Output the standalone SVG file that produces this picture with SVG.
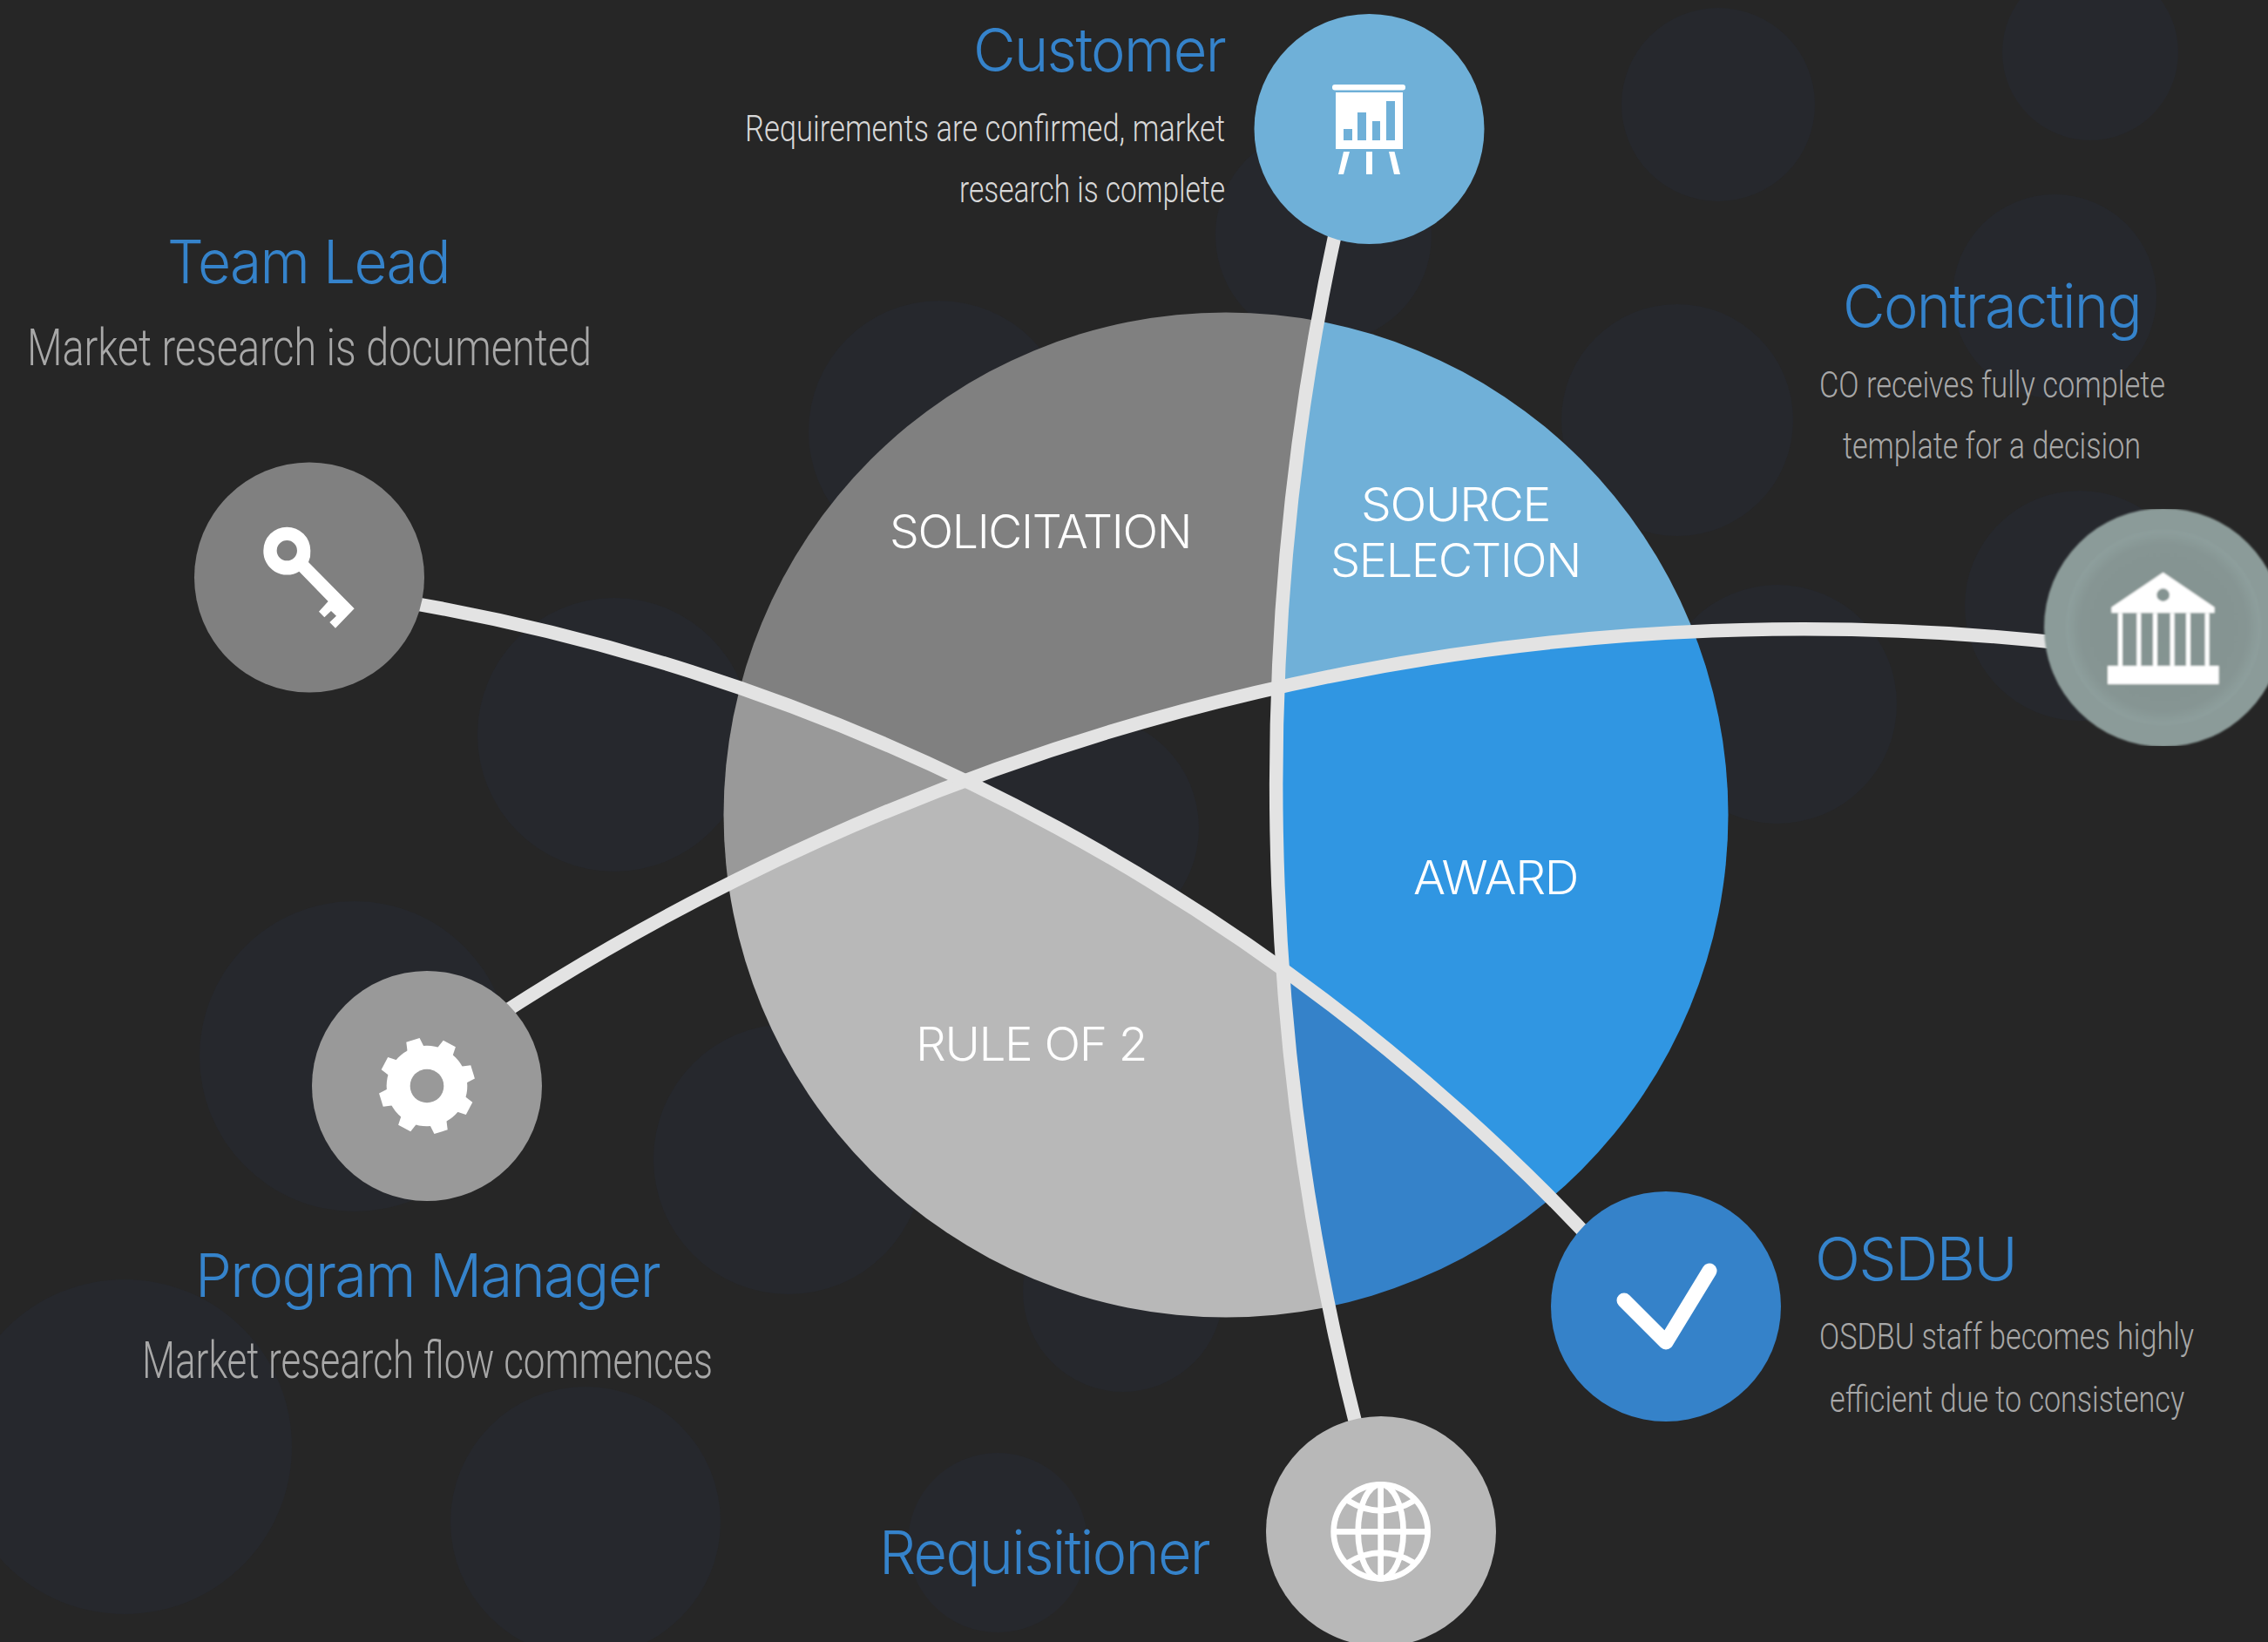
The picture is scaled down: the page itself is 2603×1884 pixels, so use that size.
<svg xmlns="http://www.w3.org/2000/svg" width="2603" height="1884" viewBox="0 0 2603 1884">
<style>
.bub{fill:#26282d}
.conn{fill:none;stroke:#e3e3e3;stroke-width:15.5}
.title{font-family:Inter,Roboto,"Liberation Sans",sans-serif;font-weight:300;font-size:69px;letter-spacing:-.025em;fill:#3583cb}
.sub{font-family:Roboto,"Liberation Sans",sans-serif;font-weight:300;font-size:43px;fill:#a8a8a8}
.subl{fill:#d8d8d8}
.big{font-size:60px}
.sec{font-family:Inter,"Liberation Sans",Arial,sans-serif;font-weight:300;font-size:53px;letter-spacing:-.025em;fill:#fff}
.ic{fill:#fff}
</style>
<defs>
<clipPath id="disc"><circle cx="1407" cy="935" r="576.5"/></clipPath>
<clipPath id="imgclip"><rect x="2330" y="584" width="273" height="272"/></clipPath>
<radialGradient id="ringg" cx="0.5" cy="0.5" r="0.5"><stop offset="0" stop-color="#849391"/><stop offset="0.85" stop-color="#869593"/><stop offset="1" stop-color="#8e9f9d"/></radialGradient>
<filter id="soft" x="-5%" y="-5%" width="110%" height="110%"><feGaussianBlur stdDeviation="1"/></filter>
<polygon id="tooth" points="-24,-165 24,-165 31,-125 -31,-125"/>
</defs>
<rect width="2603" height="1884" fill="#262626"/>
<g id="backdrop">
<circle class="bub" cx="1972" cy="120" r="111"/>
<circle class="bub" cx="2399" cy="60" r="101"/>
<circle class="bub" cx="2358" cy="340" r="117"/>
<circle class="bub" cx="1925" cy="482" r="133"/>
<circle class="bub" cx="2387" cy="695" r="132"/>
<circle class="bub" cx="2040" cy="808" r="137"/>
<circle class="bub" cx="1519" cy="270" r="124"/>
<circle class="bub" cx="1078" cy="495" r="150"/>
<circle class="bub" cx="705" cy="843" r="157"/>
<circle class="bub" cx="407" cy="1212" r="178"/>
<circle class="bub" cx="905" cy="1330" r="155"/>
<circle class="bub" cx="1246" cy="950" r="130"/>
<circle class="bub" cx="1289" cy="1482" r="115"/>
<circle class="bub" cx="143" cy="1660" r="192"/>
<circle class="bub" cx="672" cy="1746" r="155"/>
<circle class="bub" cx="1145" cy="1770" r="103"/>
</g>
<g id="sectors" clip-path="url(#disc)">
<path id="sector-solicitation" fill="#808080" d="M1108,896A2750,2750 0 0 1 1467,789A2988,2988 0 0 1 1561,148L355,148L355,674.4A2428,2428 0 0 1 1108,896Z"/>
<path id="sector-wedge" fill="#999999" d="M1108,896A2428,2428 0 0 0 355,674.4L490,1221A2750,2750 0 0 1 1108,896Z"/>
<path id="sector-rule" fill="#b8b8b8" d="M490,1221A2750,2750 0 0 1 1108,896A2428,2428 0 0 1 1472.5,1112A2988,2988 0 0 0 1590,1757L490,1757Z"/>
<path id="sector-source" fill="#70b0d8" d="M1467,789A2988,2988 0 0 1 1561,148L2483,148L2483,753A2750,2750 0 0 0 1467,789Z"/>
<path id="sector-award" fill="#3096e2" d="M1467,789A2750,2750 0 0 1 2483,753L2483,1519L1912,1519A2428,2428 0 0 0 1472.5,1112A2988,2988 0 0 1 1467,789Z"/>
<path id="sector-low" fill="#3582c9" d="M1472.5,1112A2428,2428 0 0 1 1912,1519L1912,1757L1590,1757A2988,2988 0 0 1 1472.5,1112Z"/>
</g>
<g id="connectors">
<path class="conn" d="M1561,148A2988,2988 0 0 0 1590,1757"/>
<path class="conn" d="M490,1221A2750,2750 0 0 1 2483,753"/>
<path class="conn" d="M355,674.4A2428,2428 0 0 1 1912,1519"/>
</g>
<g id="section-labels">
<text class="sec" x="1021" y="629" textLength="346" lengthAdjust="spacingAndGlyphs">SOLICITATION</text>
<text class="sec" x="1562" y="598" textLength="217" lengthAdjust="spacingAndGlyphs">SOURCE</text>
<text class="sec" x="1527" y="662" textLength="287" lengthAdjust="spacingAndGlyphs">SELECTION</text>
<text class="sec" x="1622" y="1026" textLength="189" lengthAdjust="spacingAndGlyphs">AWARD</text>
<text class="sec" x="1051" y="1217" textLength="265" lengthAdjust="spacingAndGlyphs">RULE OF 2</text>
</g>
<g id="node-customer">
<circle cx="1571.5" cy="148" r="132" fill="#6fb0d8"/>
<rect class="ic" x="1529" y="97" width="84" height="6.5" rx="3"/>
<path class="ic" fill-rule="evenodd" d="M1533,106H1610V171H1533ZM1542,148V161H1552V148ZM1558,129V161H1568V129ZM1575,139V161H1584V139ZM1591,116V161H1601V116Z"/>
<path class="ic" d="M1542,174H1549L1542,200H1536ZM1568,174H1575V200H1568ZM1594,174H1600.5L1607,200H1600Z"/>
<text class="title" x="1117" y="82" textLength="289" lengthAdjust="spacingAndGlyphs">Customer</text>
<text class="sub subl" x="855" y="162" textLength="551" lengthAdjust="spacingAndGlyphs">Requirements are confirmed, market</text>
<text class="sub subl" x="1101" y="232" textLength="305" lengthAdjust="spacingAndGlyphs">research is complete</text>
</g>
<g id="node-team-lead">
<circle cx="355" cy="662.5" r="132" fill="#808080"/>
<path class="ic" fill-rule="evenodd" transform="translate(200,510) scale(.3333)" d="M307,365A81,81 0 1 1 469,365A81,81 0 0 1 462,405L620,565L555,632L535,612L558,590L540,573L517,595L498,575L530,540L430,437A81,81 0 0 1 307,365ZM353,365A35,35 0 1 0 423,365A35,35 0 0 0 353,365Z"/>
<text class="title" x="192" y="325" textLength="324" lengthAdjust="spacingAndGlyphs">Team Lead</text>
<text class="sub big" x="31" y="419" textLength="648" lengthAdjust="spacingAndGlyphs">Market research is documented</text>
</g>
<g id="node-program-manager">
<circle cx="490" cy="1246" r="132" fill="#999999"/>
<g class="ic" transform="translate(490,1246) scale(.3333)">
<circle r="139"/>
<use href="#tooth" transform="rotate(73)"/><use href="#tooth" transform="rotate(118)"/><use href="#tooth" transform="rotate(163)"/><use href="#tooth" transform="rotate(208)"/><use href="#tooth" transform="rotate(253)"/><use href="#tooth" transform="rotate(298)"/><use href="#tooth" transform="rotate(343)"/><use href="#tooth" transform="rotate(28)"/>
<circle r="58" fill="#999999"/>
</g>
<text class="title" x="224" y="1488" textLength="533" lengthAdjust="spacingAndGlyphs">Program Manager</text>
<text class="sub big" x="163" y="1581" textLength="655" lengthAdjust="spacingAndGlyphs">Market research flow commences</text>
</g>
<g id="node-requisitioner">
<circle cx="1585" cy="1757" r="132" fill="#b8b8b8"/>
<g transform="translate(1430,1600) scale(.3333)" fill="none" stroke="#fff" stroke-width="20">
<circle cx="464" cy="472" r="162"/>
<ellipse cx="464" cy="472" rx="78" ry="162"/>
<path d="M464,310V634M302,472H626M350,365Q464,435 580,365M350,580Q464,510 580,580"/>
</g>
<text class="title" x="1009" y="1806" textLength="379" lengthAdjust="spacingAndGlyphs">Requisitioner</text>
</g>
<g id="node-osdbu">
<circle cx="1912" cy="1499" r="132" fill="#3582c9"/>
<path d="M1864,1492L1912,1540L1962,1458" fill="none" stroke="#fff" stroke-width="17" stroke-linecap="round" stroke-linejoin="round"/>
<text class="title" x="2083" y="1469" textLength="231" lengthAdjust="spacingAndGlyphs">OSDBU</text>
<text class="sub" transform="translate(2088,1548) scale(.85,1)" textLength="506" lengthAdjust="spacingAndGlyphs">OSDBU staff becomes highly</text>
<text class="sub" transform="translate(2100,1620) scale(.85,1)" textLength="479" lengthAdjust="spacingAndGlyphs">efficient due to consistency</text>
</g>
<g id="node-contracting">
<g clip-path="url(#imgclip)">
<g filter="url(#soft)">
<circle cx="2483" cy="720" r="137" fill="#8b9b99"/>
<circle cx="2483" cy="720" r="112" fill="url(#ringg)"/>
<g transform="translate(2200,560) scale(.3333)">
<path class="ic" fill-rule="evenodd" d="M848,290L1025,410V430H670V410ZM826,368A22,22 0 1 0 870,368A22,22 0 0 0 826,368Z"/>
<path class="ic" d="M693,430H708V612H693ZM757,430H772V612H757ZM813,430H828V612H813ZM872,430H887V612H872ZM927,430H942V612H927ZM992,430H1007V612H992ZM657,612H1040V675H657Z"/>
</g>
</g>
</g>
<text class="title" x="2115" y="376" textLength="342" lengthAdjust="spacingAndGlyphs">Contracting</text>
<text class="sub" x="2088" y="456" textLength="397" lengthAdjust="spacingAndGlyphs">CO receives fully complete</text>
<text class="sub" x="2115" y="526" textLength="342" lengthAdjust="spacingAndGlyphs">template for a decision</text>
</g>
</svg>
